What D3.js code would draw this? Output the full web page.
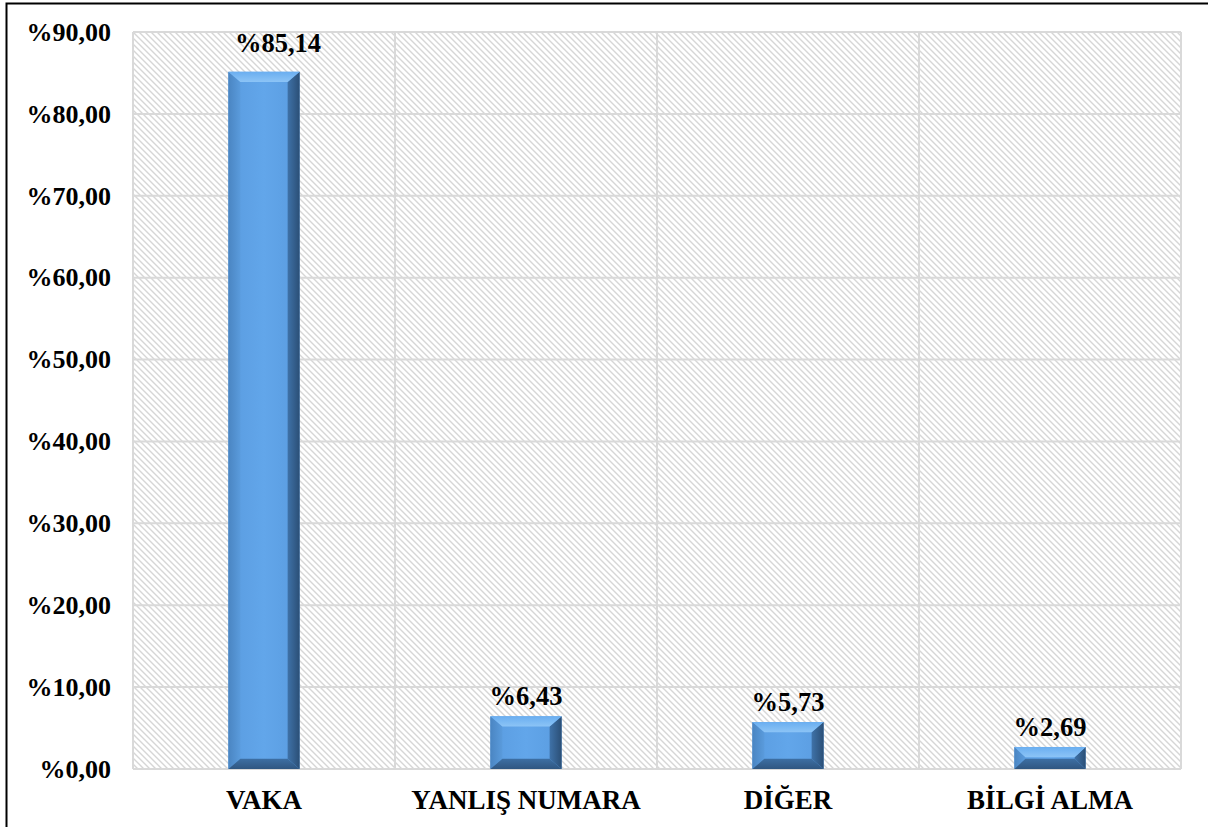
<!DOCTYPE html>
<html>
<head>
<meta charset="utf-8">
<script src="https://cdn.jsdelivr.net/npm/d3@7"></script>
<style>
  body { margin: 0; background: #fff; }
  svg { display: block; }
</style>
</head>
<body>
<svg id="chart"></svg>
<script>
// chart data
const categories = ["VAKA", "YANLIŞ NUMARA", "DİĞER", "BİLGİ ALMA"];
const values = [85.14, 6.43, 5.73, 2.69];
const valueLabels = ["%85,14", "%6,43", "%5,73", "%2,69"];
const yTicks = [0, 10, 20, 30, 40, 50, 60, 70, 80, 90];

const width = 1208;
const height = 827;
const margin = {'top': 32, 'right': 27, 'bottom': 58, 'left': 133};
const innerWidth = width - margin.left - margin.right;
const innerHeight = height - margin.top - margin.bottom;
const font = "'Liberation Serif', 'Times New Roman', serif";

const svg = d3.select('svg#chart')
  .attr('width', width)
  .attr('height', height);

// hatch pattern + bar gradients
const defs = svg.append('defs');
const pat = defs.append('pattern')
  .attr('id', 'hatch')
  .attr('patternUnits', 'userSpaceOnUse')
  .attr('width', 6)
  .attr('height', 6);
pat.append('path')
  .attr('d', 'M-1,-1 L7,7 M-1,5 L1,7 M5,-1 L7,1')
  .attr('stroke', '#d6d6d6')
  .attr('stroke-width', 1.4);

function grad(id, x2, y2, stops) {
  const g = defs.append('linearGradient').attr('id', id)
    .attr('x1', 0).attr('y1', 0).attr('x2', x2).attr('y2', y2);
  stops.forEach(s => g.append('stop').attr('offset', s[0]).attr('stop-color', s[1]));
}
grad('gFront', 1, 0, [[0, '#5a9ce0'], [0.5, '#62a6ea'], [1, '#5a9ce0']]);
grad('gLeft', 1, 0, [[0, '#4a85c2'], [1, '#5a9bdc']]);
grad('gRight', 1, 0, [[0, '#3f72a8'], [1, '#2b4f76']]);
grad('gTop', 0, 1, [[0, '#6aaef0'], [1, '#8cc4f6']]);
grad('gBottom', 0, 1, [[0, '#3d6fa3'], [1, '#2f5681']]);

// outer frame (left + top edge visible)
svg.append('path')
  .attr('d', `M6.5,${height + 5} L6.5,3.5 L${width + 5},3.5`)
  .attr('fill', 'none')
  .attr('stroke', '#000')
  .attr('stroke-width', 2);

const graph = svg.append('g')
  .attr('transform', `translate(${margin.left}, ${margin.top})`);

const y = d3.scaleLinear()
  .domain([0, 90])
  .range([innerHeight, 0]);

const x = d3.scaleBand()
  .domain(categories)
  .range([0, innerWidth])
  .padding(0);

// plot background
graph.append('rect')
  .attr('width', innerWidth)
  .attr('height', innerHeight)
  .attr('fill', 'url(#hatch)');

// gridlines
graph.append('g')
  .selectAll('line')
  .data(yTicks)
  .enter()
  .append('line')
    .attr('x1', 0)
    .attr('x2', innerWidth)
    .attr('y1', d => y(d))
    .attr('y2', d => y(d))
    .attr('stroke', '#d9d9d9')
    .attr('stroke-width', 2);

const bounds = categories.map(c => x(c)).concat([innerWidth]);
graph.append('g')
  .selectAll('line')
  .data(bounds)
  .enter()
  .append('line')
    .attr('x1', d => d)
    .attr('x2', d => d)
    .attr('y1', 0)
    .attr('y2', innerHeight)
    .attr('stroke', '#d9d9d9')
    .attr('stroke-width', 2);

// y axis labels
const yAxis = d3.axisLeft(y)
  .tickValues(yTicks)
  .tickSize(0)
  .tickPadding(22)
  .tickFormat(d => '%' + d3.format('.2f')(d).replace('.', ','));
const gY = graph.append('g').call(yAxis);
gY.select('.domain').remove();
gY.selectAll('text')
  .attr('font-family', font)
  .attr('font-weight', 'bold')
  .attr('font-size', '26px')
  .attr('fill', '#000');

// x axis labels
const xAxis = d3.axisBottom(x).tickSize(0).tickPadding(21);
const gX = graph.append('g')
  .attr('transform', `translate(0, ${innerHeight})`)
  .call(xAxis);
gX.select('.domain').remove();
gX.selectAll('text')
  .attr('font-family', font)
  .attr('font-weight', 'bold')
  .attr('font-size', '27px')
  .attr('fill', '#000');

// bevelled bars
const barW = x.bandwidth() * 0.272;
const bv = 12;
const bars = graph.selectAll('g.bar')
  .data(categories.map((c, i) => ({c: c, v: values[i], label: valueLabels[i]})))
  .enter()
  .append('g')
    .attr('class', 'bar');

bars.each(function(d) {
  const g = d3.select(this);
  const x0 = x(d.c) + (x.bandwidth() - barW) / 2;
  const x1 = x0 + barW;
  const y0 = y(d.v);
  const y1 = y(0);
  const b = Math.min(bv, (y1 - y0) / 2);
  const bh = Math.min(bv * 0.85, (y1 - y0) / 2);
  const poly = pts => pts.map(p => p.join(',')).join(' ');
  g.append('rect').attr('x', x0).attr('y', y0).attr('width', barW).attr('height', y1 - y0).attr('fill', 'url(#gFront)');
  g.append('polygon').attr('points', poly([[x0, y0], [x0 + b, y0 + bh], [x0 + b, y1 - bh], [x0, y1]])).attr('fill', 'url(#gLeft)');
  g.append('polygon').attr('points', poly([[x1, y0], [x1 - b, y0 + bh], [x1 - b, y1 - bh], [x1, y1]])).attr('fill', 'url(#gRight)');
  g.append('polygon').attr('points', poly([[x0, y0], [x1, y0], [x1 - b, y0 + bh], [x0 + b, y0 + bh]])).attr('fill', 'url(#gTop)');
  g.append('polygon').attr('points', poly([[x0, y1], [x1, y1], [x1 - b, y1 - bh], [x0 + b, y1 - bh]])).attr('fill', 'url(#gBottom)');
});

// value labels (the tallest one sits nudged up/right, as in the original)
const vmax = d3.max(values);
bars.append('text')
  .attr('x', d => x(d.c) + x.bandwidth() / 2 + (d.v === vmax ? 14 : 0))
  .attr('y', d => y(d.v) - (d.v === vmax ? 20 : 11))
  .attr('text-anchor', 'middle')
  .attr('font-family', font)
  .attr('font-weight', 'bold')
  .attr('font-size', '26.5px')
  .attr('fill', '#000')
  .text(d => d.label);
</script>
</body>
</html>
